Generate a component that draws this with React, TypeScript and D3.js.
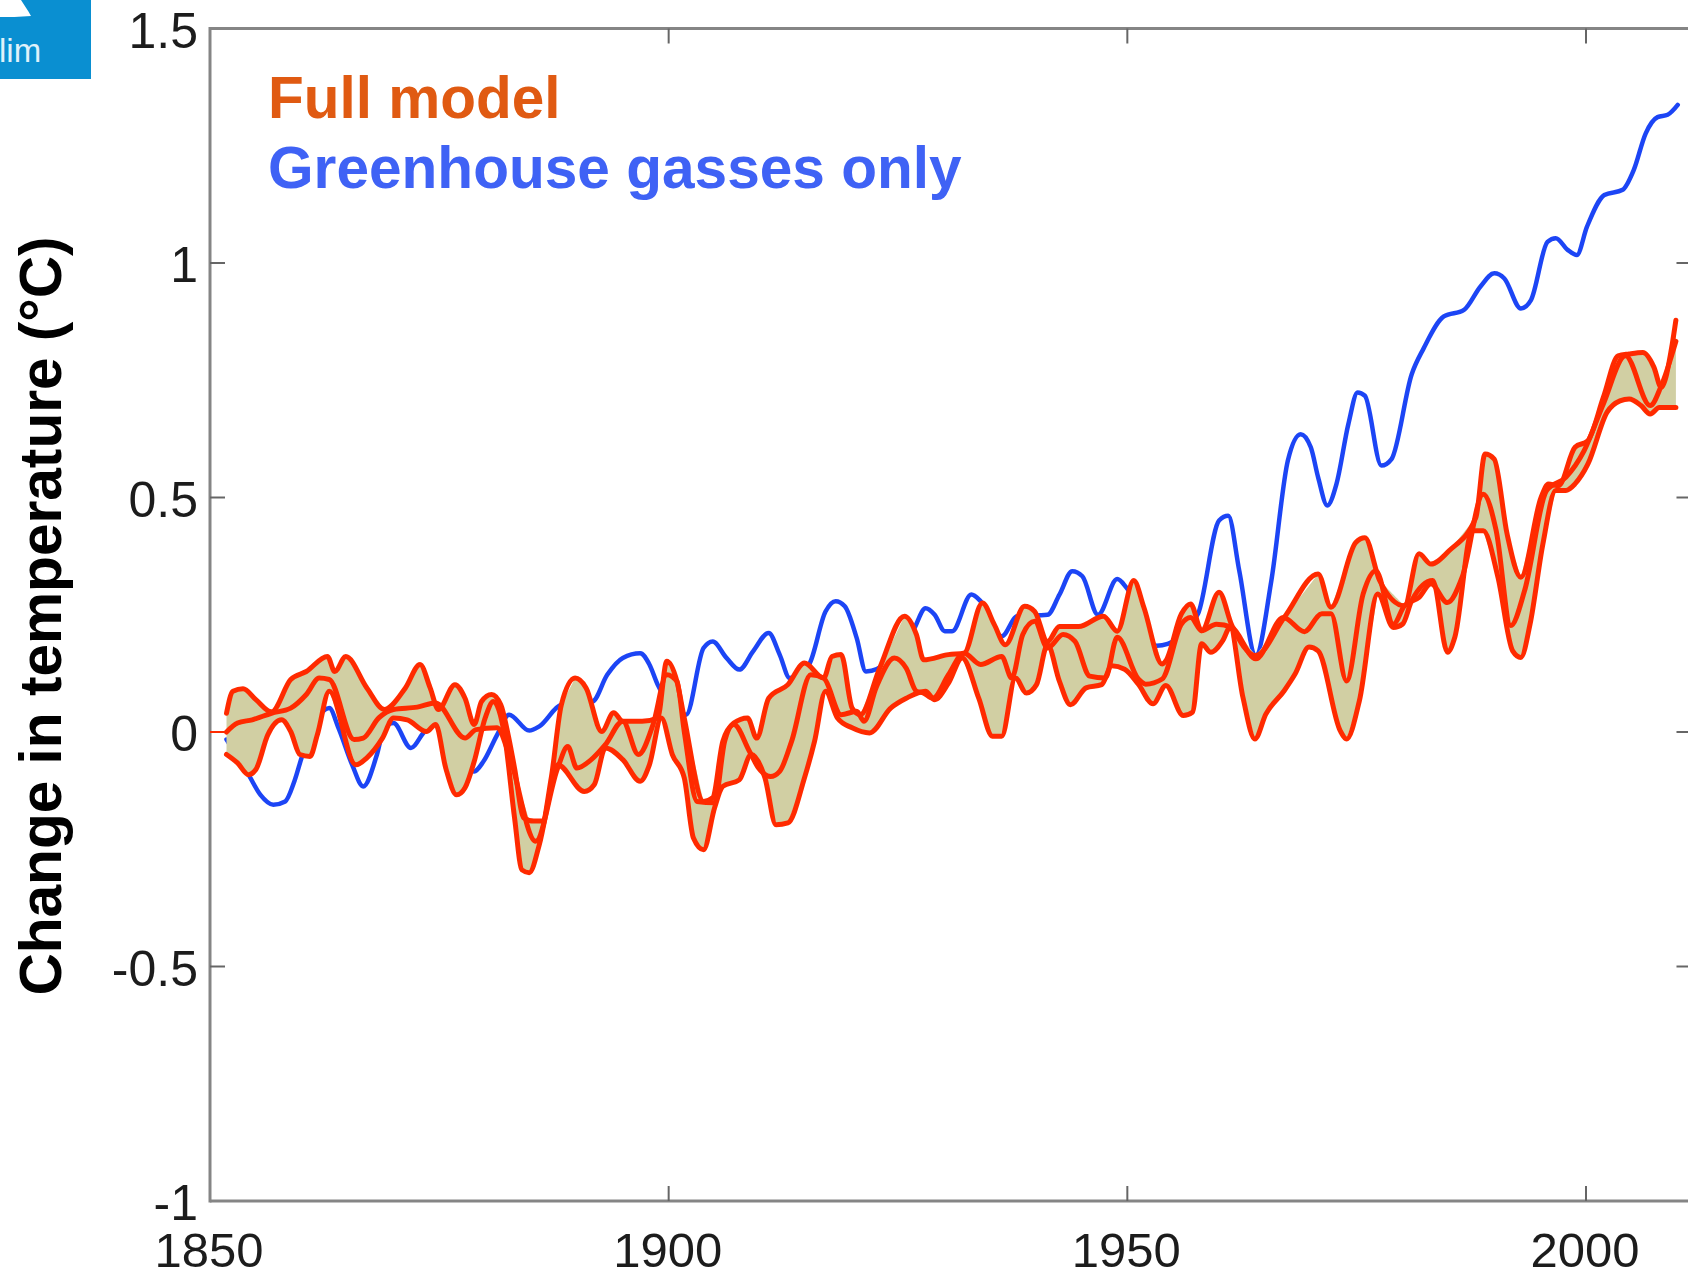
import React from "react";
import * as d3 from "d3";

const WIDTH = 1688;
const HEIGHT = 1274;

const xTicks = [1850, 1900, 1950, 2000];
const yTicks = [-1, -0.5, 0, 0.5, 1, 1.5];
const yTickLabels = ["-1", "-0.5", "0", "0.5", "1", "1.5"];
const yTitle = "Change in temperature (°C)";
const legendFull = "Full model";
const legendGhg = "Greenhouse gasses only";

const leadYears = [1850, 1851.8];
const leadValues = [0, 0];

const upperYears = [1851.8,1852.5,1853.6,1855,1856.7,1858.8,1860.5,1862.8,1863.6,1864.8,1867.1,1869,1871.3,1872.9,1874,1874.9,1876.7,1877.8,1878.8,1879.6,1880.7,1881.7,1882.5,1883.2,1884.2,1885.3,1886.2,1887.2,1888.3,1889.8,1891,1892.7,1894,1895,1897.1,1898.8,1899.8,1900.9,1901.7,1903.8,1904.8,1905.9,1907.1,1908.6,1909.6,1910.9,1913,1914.8,1916.9,1917.8,1918.8,1920,1920.9,1923,1925.7,1927,1927.8,1930.5,1932.2,1934.2,1935.5,1936.7,1938.8,1939.9,1941.3,1942.6,1944.7,1947.4,1948.9,1950.7,1951.8,1953.8,1954.2,1955.9,1956.9,1958.1,1960,1961.4,1964,1967.1,1970.8,1972.2,1974.9,1975.9,1977.5,1980.2,1981.8,1983.1,1985.1,1988,1989,1990,1991.4,1992.9,1995.1,1995.9,1997,1998.8,2000.2,2001.9,2003.5,2004.7,2006.2,2007.4,2008.2,2009.4,2009.8];
const upperValues = [0.04,0.087,0.092,0.069,0.043,0.112,0.129,0.161,0.129,0.161,0.094,0.048,0.094,0.144,0.094,0.048,0.101,0.072,0.016,0.065,0.08,0.058,-0.006,-0.077,-0.183,-0.19,-0.19,-0.098,0.058,0.115,0.094,0.001,0.041,0.023,0.023,0.03,0.151,0.108,0.03,-0.148,-0.14,-0.02,0.019,0.03,-0.013,0.072,0.101,0.147,0.115,0.161,0.165,0.051,0.037,0.136,0.247,0.208,0.154,0.165,0.168,0.275,0.229,0.186,0.268,0.257,0.193,0.225,0.225,0.247,0.215,0.323,0.266,0.145,0.152,0.252,0.273,0.216,0.298,0.227,0.163,0.244,0.337,0.266,0.404,0.414,0.323,0.269,0.38,0.358,0.387,0.458,0.593,0.582,0.422,0.33,0.5,0.529,0.525,0.607,0.621,0.714,0.802,0.806,0.809,0.778,0.735,0.827,0.878];

const middleYears = [1851.8,1853,1854.6,1856.7,1858.8,1860.5,1861.9,1863,1865.7,1866.7,1868.4,1870,1872.6,1874.6,1877.8,1879,1881.3,1882.6,1885.5,1887.9,1889,1890,1891.5,1893.1,1895,1896.7,1898.3,1899.8,1900.9,1901.7,1903.1,1905,1906.1,1907.1,1908.8,1909.8,1911.1,1912.1,1913.4,1915.5,1916.9,1918.8,1920.5,1921.3,1922.6,1924.6,1925.9,1927,1927.8,1928.8,1930.5,1932.2,1934,1936.3,1937.4,1938.6,1939.9,1941.3,1943,1944.3,1945.9,1947.6,1948.9,1951.2,1952,1953.8,1955.9,1956.9,1958.1,1959.7,1961.4,1964,1967,1969.3,1971.2,1972.2,1973.9,1975.7,1977.1,1979,1980.2,1981.8,1983.1,1984.9,1986.5,1988.8,1990.2,1991.8,1993.3,1995.7,1997.8,1999.8,2001.9,2004.3,2007,2008.2,2009.8];
const middleValues = [0,0.019,0.026,0.04,0.051,0.08,0.115,0.112,-0.016,-0.013,0.03,0.048,0.053,0.062,-0.013,0.005,0.009,-0.048,-0.233,-0.077,-0.031,-0.077,-0.06,-0.027,0.023,-0.048,0.016,0.122,0.108,0.001,-0.148,-0.151,-0.02,0.016,-0.041,-0.077,-0.095,-0.084,-0.02,0.122,0.115,0.037,0.044,0.023,0.094,0.158,0.136,0.087,0.083,0.072,0.122,0.168,0.144,0.161,0.115,0.208,0.236,0.179,0.208,0.193,0.119,0.115,0.202,0.113,0.102,0.113,0.23,0.244,0.216,0.23,0.223,0.156,0.244,0.214,0.252,0.252,0.109,0.294,0.344,0.23,0.269,0.287,0.316,0.276,0.33,0.507,0.43,0.227,0.301,0.515,0.543,0.6,0.7,0.802,0.696,0.738,0.833];

const lowerYears = [1851.8,1853,1854.2,1855,1856.3,1857.8,1858.8,1859.8,1860.9,1861.7,1863,1865.9,1867.1,1868.8,1870,1871.5,1873.6,1874.6,1875.7,1876.9,1877.8,1878.8,1880,1880.9,1882.1,1883.2,1884,1884.8,1885.9,1887.2,1887.9,1890.8,1891.9,1893.1,1895,1896.9,1897.9,1899.2,1900.4,1901.7,1902.7,1903.8,1905,1905.9,1907.7,1909,1910.5,1911.7,1913,1914.8,1915.9,1917.1,1918.4,1920,1921.9,1924.2,1925.9,1928,1929,1930.5,1932,1933.8,1935.3,1936.3,1937.8,1939,1940.1,1941.3,1942.6,1943.8,1945.5,1947.2,1948.3,1949.7,1951.2,1952.8,1954.2,1956.1,1957.1,1958.1,1959.1,1960.4,1961.2,1962.6,1963.9,1965.1,1967.1,1968.3,1969.8,1970.8,1973.2,1973.9,1975.3,1977.3,1979,1980,1981,1983.3,1984.9,1985.7,1987.6,1988.8,1990.4,1992,1992.9,1993.9,1995.3,1996.7,1997.8,1998.8,2000.2,2002.3,2003.7,2004.7,2006,2007,2008,2009,2009.8];
const lowerValues = [-0.048,-0.066,-0.091,-0.08,-0.006,0.026,0.001,-0.048,-0.052,-0.006,0.087,-0.07,-0.055,-0.013,0.03,0.026,0.001,0.016,-0.077,-0.134,-0.119,-0.063,0.03,0.065,-0.006,-0.183,-0.294,-0.3,-0.24,-0.119,-0.07,-0.127,-0.112,-0.034,-0.059,-0.105,-0.07,0.03,-0.048,-0.098,-0.226,-0.251,-0.162,-0.116,-0.102,-0.048,-0.098,-0.198,-0.194,-0.098,-0.02,0.087,0.03,0.009,-0.002,0.051,0.072,0.087,0.069,0.104,0.158,0.072,-0.009,-0.009,0.115,0.083,0.101,0.186,0.108,0.058,0.094,0.101,0.141,0.134,0.102,0.06,0.099,0.035,0.042,0.188,0.17,0.195,0.223,0.074,-0.015,0.038,0.088,0.124,0.181,0.173,0.003,-0.015,0.067,0.294,0.223,0.23,0.28,0.323,0.17,0.202,0.429,0.429,0.33,0.173,0.159,0.23,0.401,0.515,0.515,0.529,0.571,0.682,0.706,0.71,0.696,0.678,0.692,0.692,0.692];

const ghgYears = [1851.8,1854.2,1855.5,1856.9,1858.2,1859.2,1860.1,1863,1864,1865.5,1866.7,1868.2,1869,1870,1871.9,1873.4,1874.6,1878.8,1879.8,1881.3,1882.6,1884.8,1885.9,1888.3,1891.7,1893.3,1895,1896.9,1897.9,1898.8,1901.9,1903.8,1904.8,1906.3,1907.7,1909.2,1910.9,1912.1,1913.2,1915.3,1917.1,1918.2,1919.2,1920.5,1921.5,1926.7,1928,1929,1930.1,1930.9,1933,1934,1936.3,1938,1941.3,1942.6,1944,1945.1,1946.8,1948.9,1949.9,1953.2,1954.4,1957.7,1960,1961,1962.2,1964,1965.7,1967.5,1968.9,1970,1970.8,1971.8,1972.8,1974.1,1975.1,1975.9,1977.7,1978.8,1981,1982.3,1984.5,1986.7,1988.5,1990,1991.1,1992.9,1994,1995.8,1996.7,1998,1999,2000.1,2002,2004,2005.2,2006.5,2007.8,2008.9,2010];
const ghgValues = [-0.016,-0.091,-0.134,-0.155,-0.148,-0.105,-0.048,0.051,0.009,-0.07,-0.116,-0.048,0.009,0.019,-0.034,0.001,0.016,-0.084,-0.063,-0.006,0.037,0.003,0.012,0.058,0.065,0.122,0.158,0.168,0.144,0.101,0.037,0.179,0.193,0.158,0.133,0.172,0.211,0.165,0.115,0.144,0.257,0.279,0.268,0.2,0.129,0.218,0.264,0.25,0.215,0.215,0.293,0.279,0.204,0.247,0.25,0.293,0.343,0.332,0.25,0.326,0.308,0.184,0.188,0.252,0.451,0.461,0.344,0.163,0.323,0.579,0.635,0.607,0.543,0.483,0.529,0.657,0.724,0.717,0.568,0.582,0.763,0.818,0.886,0.9,0.95,0.978,0.967,0.903,0.921,1.045,1.053,1.028,1.017,1.077,1.145,1.156,1.198,1.276,1.311,1.316,1.337];

const COLORS = {
  axis: "#858585",
  tick: "#666",
  label: "#1c1c1c",
  red: "#ff2c00",
  blue: "#1f45f5",
  fill: "#d1cfa3",
  full: "#e05a12",
  ghg: "#3f62f5",
  logo: "#0a8fd1",
};

const x = d3.scaleLinear().domain([1850, 2000]).range([210, 1586]);
const y = d3.scaleLinear().domain([-1, 1.5]).range([1201, 28.5]);
const left = x(1850);
const right = x(2011.5);

const interp = (xs: number[], ys: number[], t: number) => {
  const i = Math.min(Math.max(d3.bisectLeft(xs, t), 1), xs.length - 1);
  const k = (t - xs[i - 1]) / (xs[i] - xs[i - 1]);
  return ys[i - 1] + k * (ys[i] - ys[i - 1]);
};

const series = [
  { xs: upperYears, ys: upperValues },
  { xs: middleYears, ys: middleValues },
  { xs: lowerYears, ys: lowerValues },
];

const fillStart = 1851.8;
const fillEnd = 2009.8;
const fillGrid = d3.range(fillStart, fillEnd + 0.001, 0.1);
const envelope = fillGrid.map((t) => {
  const vals = series.map((s) => interp(s.xs, s.ys, t));
  return { t, hi: d3.max(vals) as number, lo: d3.min(vals) as number };
});
const areaPath =
  d3
    .area<{ t: number; hi: number; lo: number }>()
    .x((d) => x(d.t))
    .y0((d) => y(d.lo))
    .y1((d) => y(d.hi))(envelope) || "";

const line = (xs: number[], ys: number[]) =>
  d3
    .line<number>()
    .x((d) => x(d))
    .y((_, i) => y(ys[i]))
    .curve(d3.curveMonotoneX)(xs) || "";

export default function App() {
  return (
    <svg
      width={WIDTH}
      height={HEIGHT}
      viewBox={`0 0 ${WIDTH} ${HEIGHT}`}
      style={{ position: "absolute", left: 0, top: 0, display: "block", background: "#fff" }}
      fontFamily="'Liberation Sans', Arial, sans-serif"
    >
      <defs>
        <filter id="soft" x="-2%" y="-2%" width="104%" height="104%">
          <feGaussianBlur stdDeviation="0.6" />
        </filter>
      </defs>
      <rect x={0} y={0} width={91} height={79} fill={COLORS.logo} />
      <path d="M0,0 L21,0 C24,5 28,10 31,16 C20,17 8,17 0,17 Z" fill="#fff" />
      <text x={-1} y={62} fontSize={33} fill="#dff1fa">lim</text>

      <g filter="url(#soft)">
        <line x1={left} x2={right} y1={y(1.5)} y2={y(1.5)} stroke={COLORS.axis} strokeWidth={3} />
        <line x1={left} x2={right} y1={y(-1)} y2={y(-1)} stroke={COLORS.axis} strokeWidth={3} />
        <line x1={left} x2={left} y1={y(1.5) - 1.5} y2={y(-1) + 1.5} stroke={COLORS.axis} strokeWidth={3} />

        {xTicks.slice(1).map((t) => (
          <g key={t}>
            <line x1={x(t)} x2={x(t)} y1={y(1.5)} y2={y(1.5) + 15} stroke={COLORS.tick} strokeWidth={2} />
            <line x1={x(t)} x2={x(t)} y1={y(-1)} y2={y(-1) - 15} stroke={COLORS.tick} strokeWidth={2} />
          </g>
        ))}
        {yTicks.slice(1, -1).map((t) => (
          <g key={t}>
            <line x1={left} x2={left + 15} y1={y(t)} y2={y(t)} stroke={COLORS.tick} strokeWidth={2} />
            <line x1={right - 15} x2={right} y1={y(t)} y2={y(t)} stroke={COLORS.tick} strokeWidth={2} />
          </g>
        ))}

        <path d={line(ghgYears, ghgValues)} fill="none" stroke={COLORS.blue} strokeWidth={4.5} strokeLinejoin="round" strokeLinecap="round" />
        <path d={areaPath} fill={COLORS.fill} />
        <path d={line(leadYears, leadValues)} fill="none" stroke={COLORS.red} strokeWidth={2} />
        {series.map((s, i) => (
          <path key={i} d={line(s.xs, s.ys)} fill="none" stroke={COLORS.red} strokeWidth={5} strokeLinejoin="round" strokeLinecap="round" />
        ))}
      </g>

      {xTicks.map((t) => (
        <text key={t} x={x(t) - 1} y={1267} fontSize={49} textAnchor="middle" fill={COLORS.label}>
          {t}
        </text>
      ))}
      {yTicks.map((t, i) => (
        <text key={t} x={198} y={y(t) + 19} fontSize={50} textAnchor="end" fill={COLORS.label}>
          {yTickLabels[i]}
        </text>
      ))}

      <text
        transform="translate(61,616) rotate(-90)"
        fontSize={58.6}
        fontWeight={700}
        textAnchor="middle"
        fill="#000"
      >
        {yTitle}
      </text>

      <text x={268} y={118} fontSize={58.5} fontWeight={700} fill={COLORS.full}>{legendFull}</text>
      <text x={268} y={188} fontSize={58.6} fontWeight={700} fill={COLORS.ghg}>{legendGhg}</text>
    </svg>
  );
}
